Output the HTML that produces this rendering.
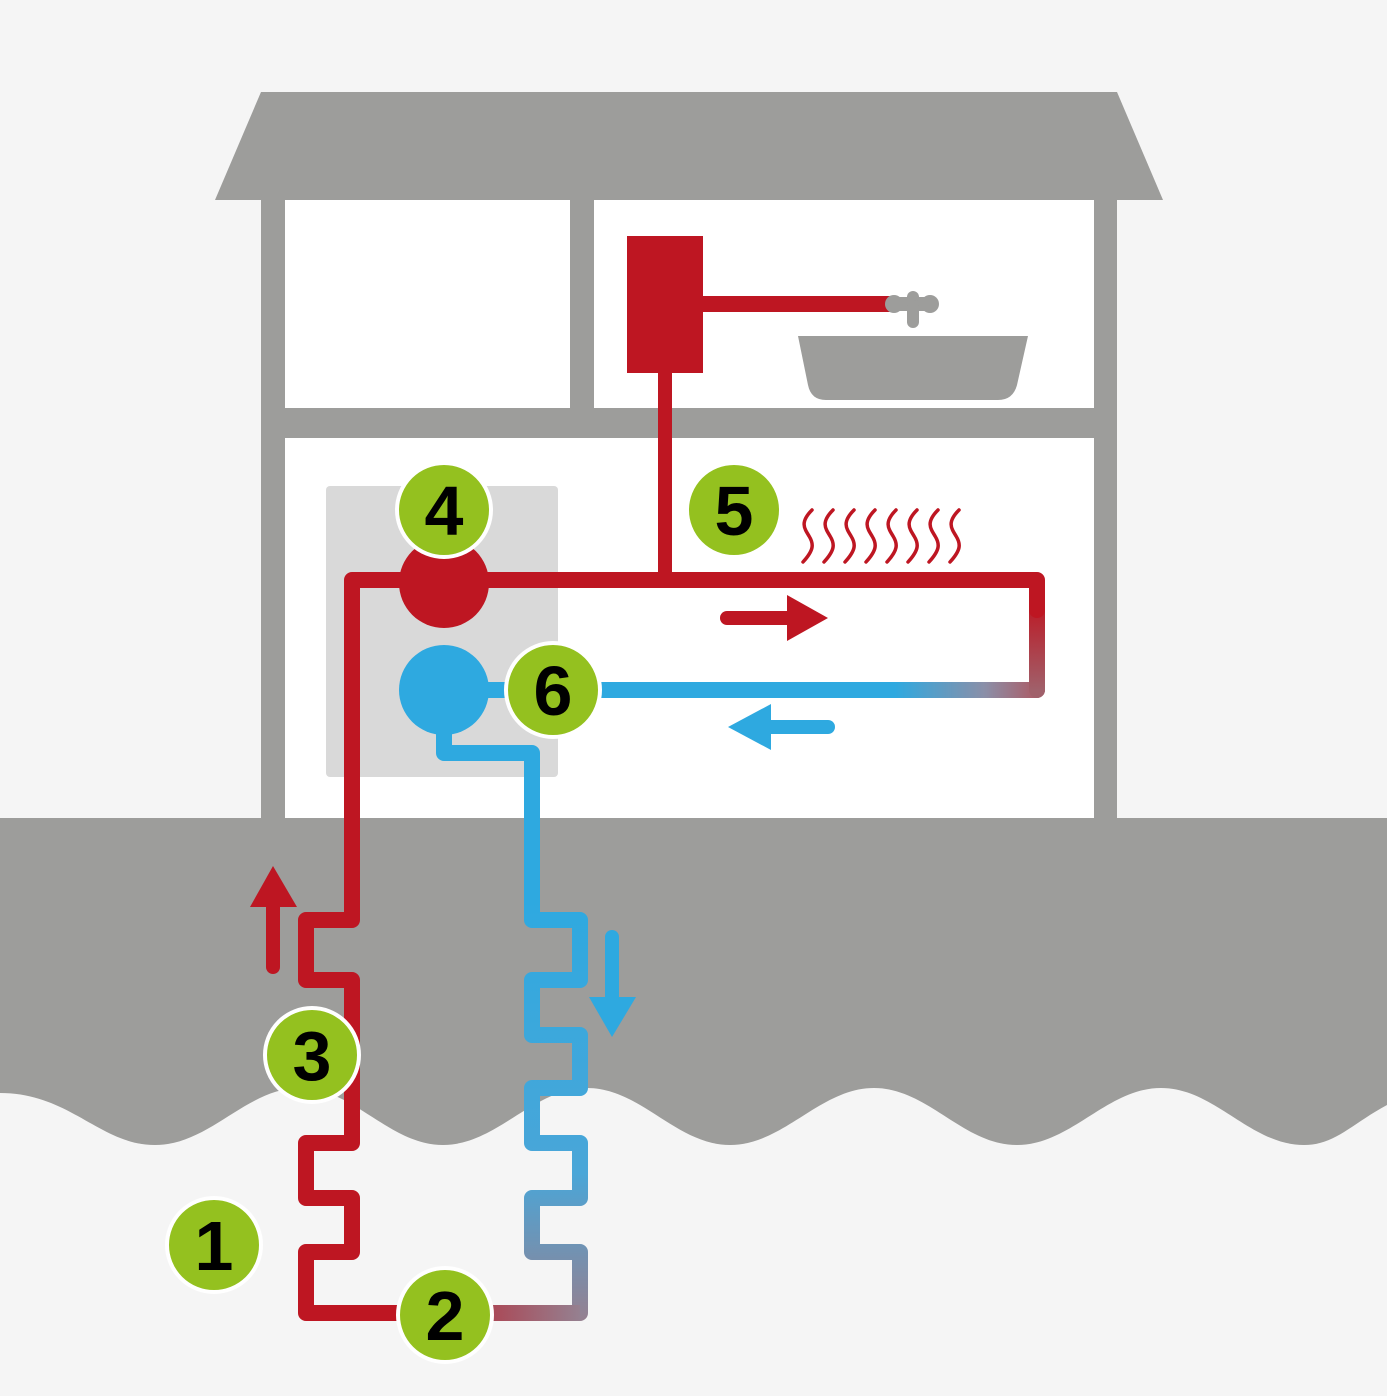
<!DOCTYPE html>
<html><head><meta charset="utf-8"><style>html,body{margin:0;padding:0;background:#f5f5f5}svg{display:block}</style></head>
<body>
<svg width="1387" height="1396" viewBox="0 0 1387 1396" xmlns="http://www.w3.org/2000/svg">
<defs>
<linearGradient id="gh" x1="444" y1="0" x2="1045" y2="0" gradientUnits="userSpaceOnUse">
<stop offset="0.75" stop-color="#2ea9e0"/><stop offset="0.9" stop-color="#8b8fa8"/><stop offset="1" stop-color="#b0545c"/></linearGradient>
<linearGradient id="gv" x1="0" y1="600" x2="0" y2="690" gradientUnits="userSpaceOnUse">
<stop offset="0" stop-color="#be1622"/><stop offset="1" stop-color="#a0606a"/></linearGradient>
<linearGradient id="gb" x1="0" y1="900" x2="0" y2="1320" gradientUnits="userSpaceOnUse">
<stop offset="0" stop-color="#2ea9e0"/><stop offset="0.65" stop-color="#4aa6d8"/><stop offset="1" stop-color="#958090"/></linearGradient>
<linearGradient id="gbot" x1="352" y1="0" x2="580" y2="0" gradientUnits="userSpaceOnUse">
<stop offset="0.25" stop-color="#be1622"/><stop offset="1" stop-color="#958090"/></linearGradient>
</defs>
<rect width="1387" height="1396" fill="#f5f5f5"/>
<polygon points="261,92 1117,92 1163,200 215,200" fill="#9d9d9b"/>
<rect x="261" y="200" width="856" height="620" fill="#9d9d9b"/>
<rect x="285" y="200" width="285" height="208" fill="#fff"/>
<rect x="594" y="200" width="500" height="208" fill="#fff"/>
<rect x="285" y="438" width="809" height="382" fill="#fff"/>
<path d="M0,818 H1387 V1105 C1350,1125 1335,1145 1304,1145 C1250,1145 1215,1088 1161,1088 C1107,1088 1071,1145 1017,1145 C963,1145 928,1088 874,1088 C820,1088 784,1145 730,1145 C676,1145 641,1088 587,1088 C533,1088 497,1145 443,1145 C389,1145 354,1088 300,1088 C246,1088 210,1145 155,1145 C100,1145 70,1093 0,1093 Z" fill="#9d9d9b"/>
<rect x="326" y="486" width="232" height="291" rx="4" fill="#d9d9d9"/>
<rect x="627" y="236" width="76" height="137" fill="#be1622"/>
<line x1="700" y1="304" x2="895" y2="304" stroke="#be1622" stroke-width="16"/>
<line x1="665" y1="370" x2="665" y2="582" stroke="#be1622" stroke-width="14"/>
<circle cx="894" cy="304" r="9" fill="#9d9d9b"/><circle cx="930" cy="304" r="9" fill="#9d9d9b"/>
<rect x="894" y="297" width="36" height="14" fill="#9d9d9b"/>
<circle cx="913" cy="297" r="6" fill="#9d9d9b"/>
<rect x="907" y="300" width="12" height="28" rx="6" fill="#9d9d9b"/>
<path d="M798,336 H1028 L1017,385 Q1013,400 998,400 H826 Q811,400 808,385 Z" fill="#9d9d9b"/>
<g fill="none" stroke="#be1622" stroke-width="3.5" stroke-linecap="round">
<path id="w" d="M812,510 C800,522 804,528 809,536 C814,544 814,550 803,562"/>
<use href="#w" x="21"/><use href="#w" x="42"/><use href="#w" x="63"/><use href="#w" x="84"/><use href="#w" x="105"/><use href="#w" x="126"/><use href="#w" x="147"/>
</g>
<g fill="none" stroke-width="16" stroke-linejoin="round" stroke-linecap="round">
<path d="M1037,690 H444" stroke="url(#gh)"/>
<path d="M1037,600 V690" stroke="url(#gv)"/>
<path d="M1037,610 V580 H352 V920 H306 V980 H352 V1143 H306 V1198 H352 V1252 H306 V1313 H400" stroke="#be1622"/>
<path d="M444,700 V753 H532 V920 H580 V980 H532 V1035 H580 V1088 H532 V1143 H580 V1198 H532 V1252 H580 V1313" stroke="url(#gb)"/>
<path d="M400,1313 H580" stroke="url(#gbot)" stroke-linecap="butt"/>
</g>
<circle cx="444" cy="583" r="45" fill="#be1622"/>
<circle cx="444" cy="690" r="45" fill="#2ea9e0"/>
<line x1="727" y1="618" x2="795" y2="618" stroke="#be1622" stroke-width="14" stroke-linecap="round"/>
<polygon points="787,595 828,618 787,641" fill="#be1622"/>
<line x1="828" y1="727" x2="765" y2="727" stroke="#2ea9e0" stroke-width="14" stroke-linecap="round"/>
<polygon points="771,704 728,727 771,750" fill="#2ea9e0"/>
<line x1="273" y1="967" x2="273" y2="900" stroke="#be1622" stroke-width="14" stroke-linecap="round"/>
<polygon points="250,907 273,866 297,907" fill="#be1622"/>
<line x1="612" y1="937" x2="612" y2="1005" stroke="#2ea9e0" stroke-width="14" stroke-linecap="round"/>
<polygon points="589,997 612,1037 636,997" fill="#2ea9e0"/>
<g fill="#94c11f" stroke="#fff" stroke-width="4">
<circle cx="444" cy="510" r="47"/><circle cx="734" cy="510" r="47"/><circle cx="553" cy="690" r="47"/>
<circle cx="312" cy="1055" r="47"/><circle cx="214" cy="1245" r="47"/><circle cx="445" cy="1315" r="47"/>
</g>
<g font-family="Liberation Sans, sans-serif" font-weight="bold" font-size="70" fill="#000" text-anchor="middle">
<text x="444" y="535">4</text><text x="734" y="535">5</text><text x="553" y="715">6</text>
<text x="312" y="1080">3</text><text x="214" y="1270">1</text><text x="445" y="1340">2</text>
</g>
</svg>
</body></html>
